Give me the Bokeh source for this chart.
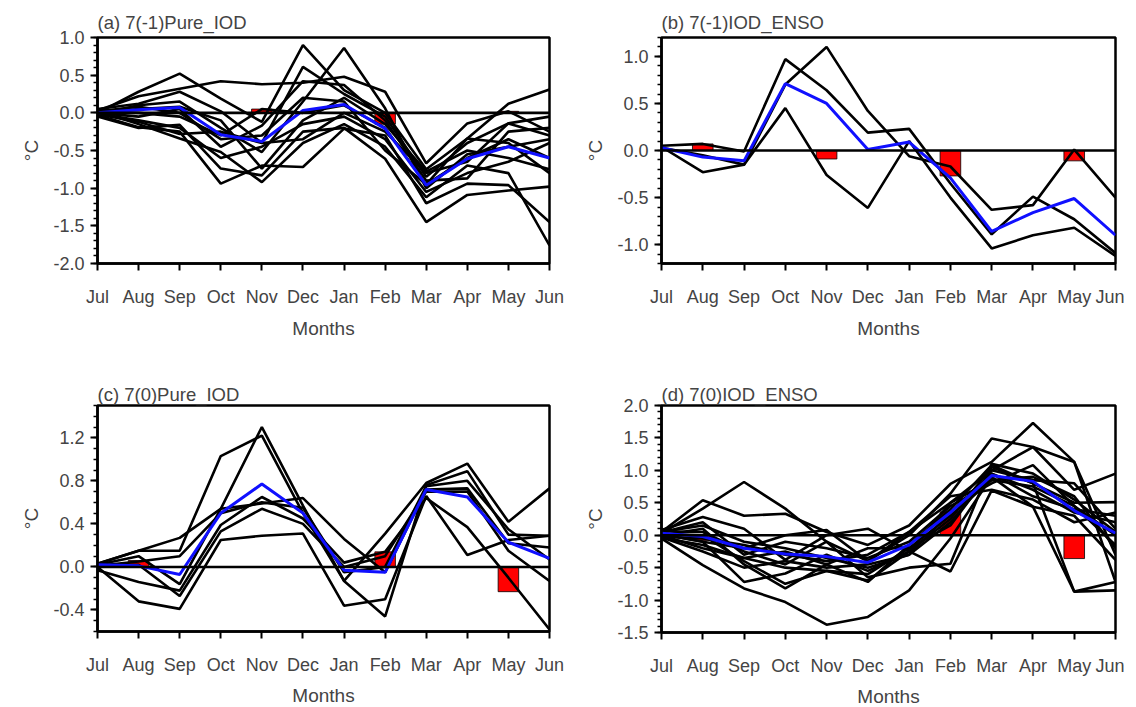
import numpy as np
from bokeh.plotting import figure
from bokeh.layouts import column, row
from bokeh.models import Range1d, FixedTicker, PrintfTickFormatter, Span
from bokeh.embed import file_html
from bokeh.resources import INLINE

months = ["Jul", "Aug", "Sep", "Oct", "Nov", "Dec", "Jan", "Feb", "Mar", "Apr", "May", "Jun"]

# ---------------- (a) 7(-1)Pure_IOD ----------------
a_members = [
    [0.00, 0.28, 0.52, 0.19, -0.12, 0.90, 0.30, 0.00, -0.75, -0.34, 0.12, 0.31],
    [0.03, 0.22, 0.32, 0.42, 0.38, 0.40, 0.48, 0.28, -0.67, -0.14, 0.02, -0.25],
    [0.05, 0.12, 0.28, 0.02, -0.40, 0.61, 0.25, -0.05, -0.85, -0.40, -0.14, -0.05],
    [-0.02, 0.10, 0.15, -0.20, -0.52, 0.15, 0.86, 0.06, -1.00, -0.55, -0.45, -0.35],
    [0.00, -0.05, 0.05, -0.45, -0.17, 0.42, 0.37, -0.10, -0.90, -0.87, -0.25, -0.20],
    [-0.03, -0.19, -0.25, -0.94, -0.70, -0.72, -0.21, -0.30, -1.20, -0.94, -0.96, -1.45],
    [0.02, -0.15, -0.34, -0.52, -0.92, -0.40, -0.15, -0.45, -1.12, -0.70, -0.80, -1.76],
    [-0.05, -0.20, -0.16, -0.74, -0.83, -0.25, -0.20, -0.61, -1.45, -1.09, -1.03, -0.98],
    [0.00, 0.05, 0.08, -0.10, -0.74, -0.10, 0.20, -0.15, -0.78, -0.50, -0.60, -0.75],
    [0.01, 0.00, -0.05, -0.30, 0.05, 0.00, 0.10, -0.20, -0.95, -0.60, -0.35, -0.60],
    [-0.01, -0.10, -0.20, -0.60, -0.45, -0.15, -0.05, -0.35, -1.05, -0.80, -0.65, -0.40],
    [0.02, 0.08, 0.00, -0.35, -0.30, 0.20, 0.15, -0.50, -0.95, -0.34, -0.40, -0.80],
    [-0.02, -0.12, -0.28, -0.25, -0.40, -0.35, 0.00, -0.25, -0.80, -0.65, -0.14, -0.30],
]
a_mean = [0.00, 0.04, 0.07, -0.29, -0.38, 0.03, 0.11, -0.21, -0.96, -0.61, -0.45, -0.60]
a_bar_months = ["Nov", "Feb", "May"]
a_bar_vals = [0.05, -0.15, 0.02]

# ---------------- (b) 7(-1)IOD_ENSO ----------------
b_members = [
    [0.05, 0.07, -0.01, 0.97, 0.64, 0.19, 0.23, -0.35, -0.89, -0.49, -0.73, -1.09],
    [0.03, -0.05, -0.15, 0.70, 1.10, 0.42, -0.06, -0.17, -0.63, -0.58, 0.01, -0.50],
    [0.04, -0.23, -0.15, 0.45, -0.26, -0.61, 0.10, -0.50, -1.04, -0.90, -0.82, -1.12],
]
b_mean = [0.03, -0.07, -0.11, 0.71, 0.50, 0.01, 0.09, -0.29, -0.86, -0.66, -0.51, -0.90]
b_bar_months = ["Aug", "Nov", "Feb", "May"]
b_bar_vals = [0.07, -0.09, -0.27, -0.11]

# ---------------- (c) 7(0)Pure_IOD ----------------
c_members = [
    [0.03, 0.15, 0.15, 1.03, 1.22, 0.50, -0.13, 0.31, 0.78, 0.96, 0.42, 0.73],
    [0.02, 0.10, -0.16, 0.54, 1.30, 0.57, -0.13, -0.46, 0.76, 0.89, 0.30, 0.29],
    [0.03, 0.15, 0.27, 0.54, 0.59, 0.64, 0.26, -0.05, 0.72, 0.73, 0.22, 0.18],
    [-0.03, -0.14, -0.22, 0.39, 0.65, 0.45, 0.04, 0.14, 0.64, 0.37, -0.10, -0.58],
    [0.00, -0.32, -0.39, 0.25, 0.29, 0.31, -0.36, -0.30, 0.66, 0.11, 0.25, 0.29],
    [0.02, 0.02, -0.27, 0.33, 0.54, 0.40, 0.00, 0.10, 0.70, 0.70, 0.15, -0.13],
    [0.01, 0.05, 0.10, 0.50, 0.60, 0.55, -0.05, 0.00, 0.75, 0.80, 0.35, 0.07],
]
c_mean = [0.02, 0.01, -0.07, 0.50, 0.77, 0.50, -0.03, -0.05, 0.72, 0.65, 0.23, 0.08]
c_bar_months = ["Aug", "Feb", "May"]
c_bar_vals = [0.06, 0.14, -0.23]

# ---------------- (d) 7(0)IOD_ENSO ----------------
d_members = [
    [0.05, 0.54, 0.30, 0.33, 0.05, -0.15, 0.15, 0.79, 1.13, 1.73, 1.13, -0.30],
    [0.03, 0.41, 0.82, 0.41, -0.10, -0.40, 0.00, 0.64, 1.49, 1.36, 0.70, 0.95],
    [0.08, 0.28, 0.10, -0.38, 0.00, 0.10, -0.25, 0.50, 1.00, 1.36, 1.13, -0.72],
    [0.00, 0.10, -0.45, -0.82, -0.45, -0.72, -0.15, 0.40, 1.08, 0.80, 0.50, 0.51],
    [-0.05, -0.46, -0.82, -1.03, -1.38, -1.26, -0.85, -0.05, 0.90, 0.44, -0.87, -0.85],
    [0.02, -0.10, -0.72, -0.59, -0.30, -0.55, -0.25, 0.25, 1.05, 0.80, -0.87, -0.72],
    [0.05, 0.15, -0.10, -0.20, -0.35, -0.50, -0.30, 0.35, 0.95, 0.70, 0.35, 0.20],
    [0.00, -0.20, -0.35, -0.50, -0.55, -0.60, -0.20, 0.30, 0.85, 0.90, 0.60, -0.20],
    [0.04, 0.20, -0.30, -0.10, -0.20, -0.35, -0.10, 0.45, 0.80, 1.08, 0.45, 0.00],
    [-0.02, -0.05, -0.15, -0.30, -0.40, -0.30, 0.05, 0.60, 0.70, 0.55, 0.20, 0.35],
    [0.06, 0.05, -0.25, -0.45, -0.10, -0.65, -0.50, -0.44, 1.10, 0.95, 0.55, 0.05],
    [-0.03, -0.25, -0.50, -0.40, -0.50, -0.45, -0.30, 0.20, 0.95, 0.60, 0.40, 0.30],
    [0.02, 0.00, -0.40, -0.75, -0.55, -0.70, -0.25, -0.56, 0.69, 0.44, 0.30, -0.38],
    [0.01, -0.10, -0.20, 0.00, 0.08, -0.40, 0.05, 0.50, 0.85, 0.75, 0.45, -0.15],
    [-0.04, -0.15, -0.35, -0.25, -0.45, -0.20, -0.20, 0.15, 1.00, 0.85, 0.80, 0.10],
]
d_mean = [0.03, -0.02, -0.20, -0.29, -0.33, -0.42, -0.15, 0.35, 0.92, 0.83, 0.38, 0.03]
d_bar_months = ["Aug", "Feb", "May"]
d_bar_vals = [-0.08, 0.36, -0.36]

FONT = "Liberation Sans"


def make_panel(title, members, mean, bar_months, bar_vals, ylo, yhi, ymajor, yminor,
               bl, br, bt, bb, fw, fh, title_standoff, xlabel_standoff):
    p = figure(frame_width=fw, frame_height=fh, x_range=Range1d(0, 11), y_range=Range1d(ylo, yhi),
               output_backend="svg", toolbar_location=None, title=title,
               min_border_left=bl, min_border_right=br, min_border_top=bt, min_border_bottom=bb)
    p.grid.visible = False
    p.outline_line_color = "black"
    p.outline_line_width = 2.5
    p.title.text_font = FONT
    p.title.text_font_size = "18.5px"
    p.title.text_font_style = "normal"
    p.title.align = "left"
    p.title.standoff = title_standoff

    xs = list(range(len(months)))
    bx = [months.index(m) for m in bar_months]
    p.vbar(x=bx, top=bar_vals, bottom=0, width=0.5, fill_color="red",
           line_color="black", line_width=0.8)
    p.add_layout(Span(location=0, dimension="width", line_color="black", line_width=2.6))
    for m in members:
        p.line(xs, m, line_color="black", line_width=2.6)
    p.line(xs, mean, line_color="#1010ff", line_width=3)

    xa = p.xaxis[0]
    xa.ticker = FixedTicker(ticks=xs, minor_ticks=[])
    xa.major_label_overrides = {i: m for i, m in enumerate(months)}
    xa.axis_label = "Months"
    ya = p.yaxis[0]
    ya.ticker = FixedTicker(ticks=ymajor, minor_ticks=yminor)
    ya.formatter = PrintfTickFormatter(format="%.1f")
    ya.axis_label = "°C"
    for ax in (xa, ya):
        ax.axis_line_width = 2.5
        ax.major_tick_line_width = 2
        ax.minor_tick_line_width = 1.5
        ax.major_tick_in = 0
        ax.major_tick_out = 7
        ax.minor_tick_in = 0
        ax.minor_tick_out = 4
        ax.major_label_text_font = FONT
        ax.major_label_text_font_size = "18px"
        ax.axis_label_text_font = FONT
        ax.axis_label_text_font_size = "19px"
        ax.axis_label_text_font_style = "normal"
    xa.major_label_standoff = 16
    xa.axis_label_standoff = xlabel_standoff
    ya.major_label_standoff = 6
    ya.axis_label_standoff = 8
    return p


def minors(lo, hi):
    return [round(v, 2) for v in np.arange(lo, hi + 1e-9, 0.1)]


pa = make_panel("(a) 7(-1)Pure_IOD", a_members, a_mean, a_bar_months, a_bar_vals,
                -2.0, 1.0, [-2.0, -1.5, -1.0, -0.5, 0.0, 0.5, 1.0], minors(-2.0, 1.0),
                97, 19, 37, 115, 452, 226, 10, 8)
pb = make_panel("(b) 7(-1)IOD_ENSO", b_members, b_mean, b_bar_months, b_bar_vals,
                -1.2, 1.2, [-1.0, -0.5, 0.0, 0.5, 1.0], minors(-1.2, 1.2),
                93, 9, 37, 115, 454, 226, 10, 8)
pc = make_panel("(c) 7(0)Pure_IOD", c_members, c_mean, c_bar_months, c_bar_vals,
                -0.6, 1.5, [-0.4, 0.0, 0.4, 0.8, 1.2], minors(-0.6, 1.5),
                97, 19, 27, 76, 452, 226, 2, 7)
pd_ = make_panel("(d) 7(0)IOD_ENSO", d_members, d_mean, d_bar_months, d_bar_vals,
                 -1.5, 2.0, [-1.5, -1.0, -0.5, 0.0, 0.5, 1.0, 1.5, 2.0], minors(-1.5, 2.0),
                 93, 9, 26, 76, 454, 227, 2, 7)

layout = column(row(pa, pb), row(pc, pd_))
html = file_html(layout, INLINE)
html = html.replace("<head>", "<head><style>html,body{overflow:hidden;}</style>", 1)
open("out.html", "w").write(html)
